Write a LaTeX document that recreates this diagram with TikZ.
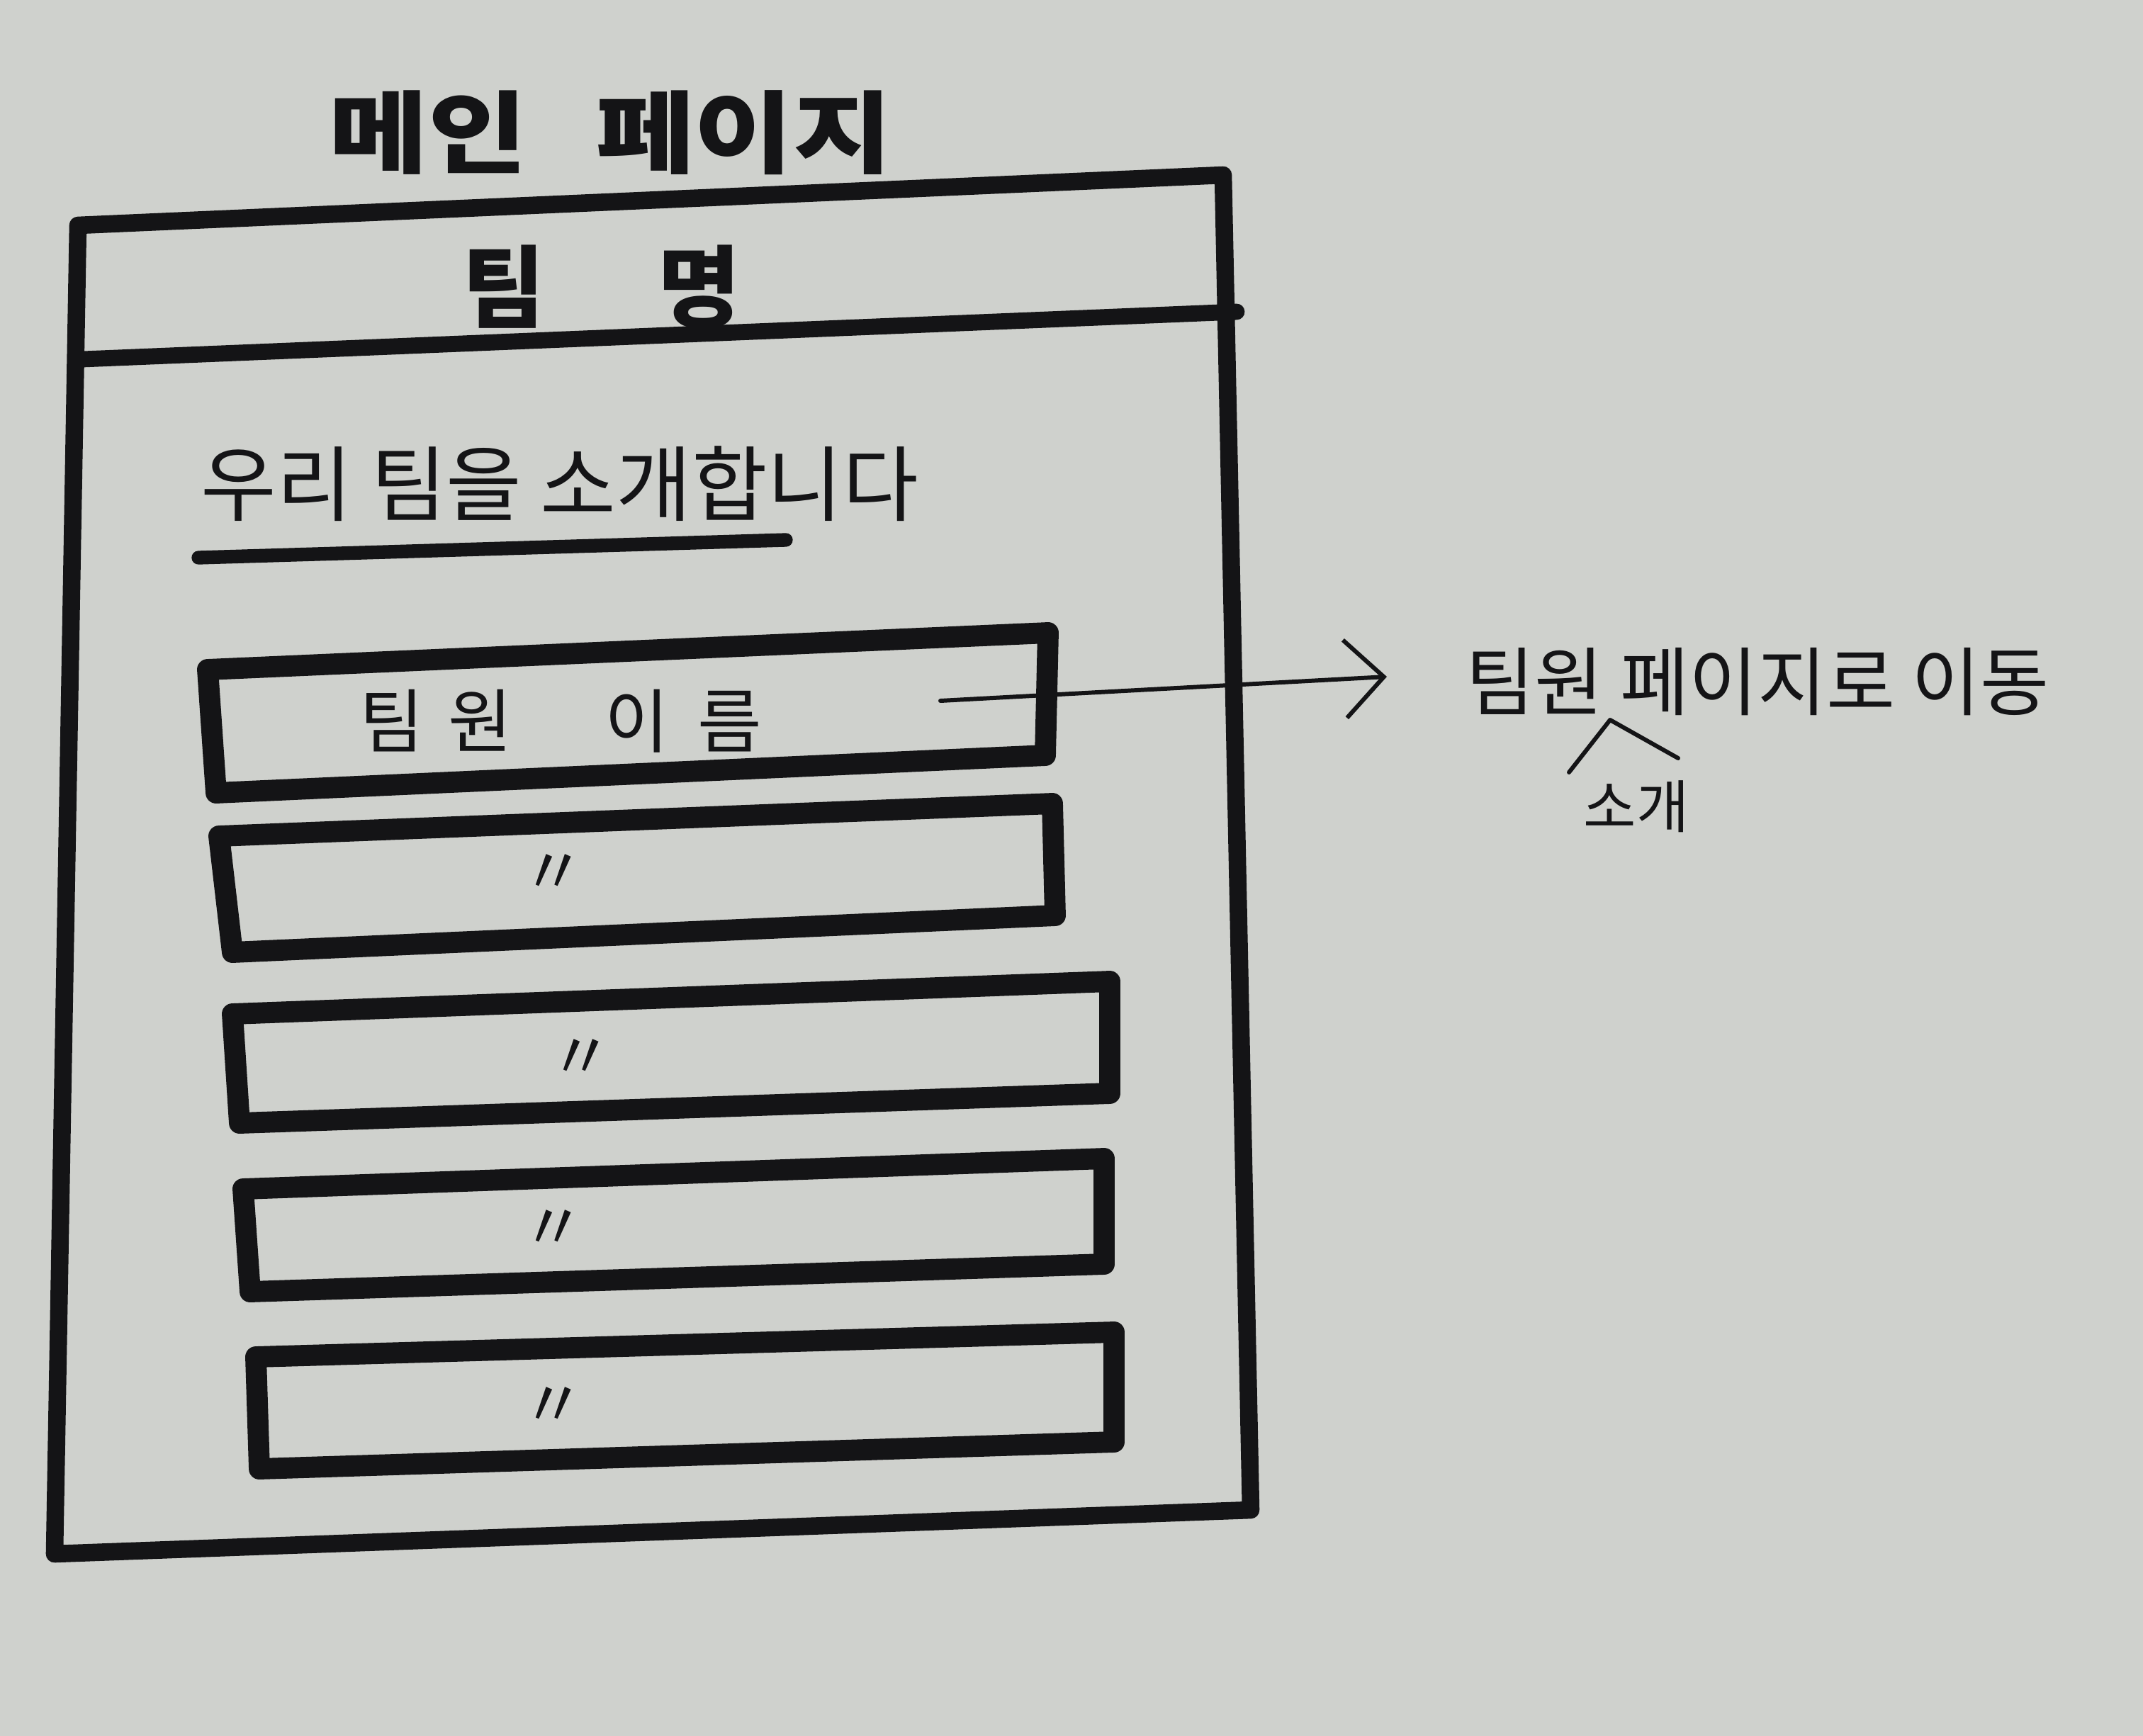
\documentclass[tikz,border=0pt]{standalone}
\usepackage{fontspec}
\setmainfont{Noto Sans CJK KR}
\usetikzlibrary{arrows.meta}
\definecolor{paper}{RGB}{207,209,205}
\definecolor{ink}{RGB}{20,20,22}
\begin{document}
\begin{tikzpicture}[x=1cm,y=1cm,
  thickline/.style={draw=ink,line width=7pt,line join=round,line cap=round},
  boxline/.style={draw=ink,line width=8.5pt,line join=round,line cap=round},
  penline/.style={draw=ink,line width=1.7pt,line cap=round,line join=round},
  txt/.style={text=ink,inner sep=0pt},
  heading/.style={txt,font=\bfseries\fontsize{36}{40}\selectfont},
  ditto/.style={txt,font=\fontsize{26}{28}\selectfont},
]
\fill[paper] (0,0) rectangle (30.24,-24.5);
\useasboundingbox (0,0) rectangle (30.24,-24.5);

% title
\node[heading,font=\bfseries\fontsize{36}{40}\selectfont] (title) at (8.62,-1.87) {\scalebox{1.2}[1]{메인\hspace{0.8cm}페이지}};

% outer frame and header
\draw[thickline] (1.10,-3.18) -- (17.26,-2.47) -- (17.65,-21.31) -- (0.77,-21.93) -- cycle;
\draw[thickline,line width=6.5pt] (1.16,-5.07) -- (17.45,-4.40);
\node[heading] (team) at (8.49,-4.05) {팀\hspace{1.6cm}명};

% intro
\node[txt,font=\fontsize{33}{36}\selectfont] (intro) at (7.90,-6.83) {우리 팀을 소개합니다};
\draw[ink,line width=5.5pt,line cap=round] (2.80,-7.87) -- (11.09,-7.62);

% member boxes
\draw[boxline] (2.93,-9.45) -- (14.79,-8.93) -- (14.75,-10.66) -- (3.05,-11.19) -- cycle;
\draw[boxline] (3.09,-11.80) -- (14.85,-11.34) -- (14.89,-12.92) -- (3.28,-13.44) -- cycle;
\draw[boxline] (3.28,-14.31) -- (15.66,-13.85) -- (15.66,-15.43) -- (3.38,-15.85) -- cycle;
\draw[boxline] (3.43,-16.78) -- (15.58,-16.35) -- (15.58,-17.84) -- (3.53,-18.23) -- cycle;
\draw[boxline] (3.61,-19.15) -- (15.72,-18.80) -- (15.72,-20.35) -- (3.66,-20.73) -- cycle;

\node[txt,font=\fontsize{28}{30}\selectfont] (m1) at (7.91,-10.18) {팀\hspace{0.35cm}원\hspace{1.3cm}이\hspace{0.4cm}름};
\node[ditto] (m2) at (7.81,-12.34) {〃};
\node[ditto] (m3) at (8.20,-14.95) {〃};
\node[ditto] (m4) at (7.81,-17.36) {〃};
\node[ditto] (m5) at (7.81,-19.86) {〃};

% arrow and note
\coordinate (a1) at (13.27,-9.89);
\coordinate (a2) at (19.57,-9.55);
\draw[penline,-{Straight Barb[length=5.5mm,width=11mm]}] (a1) -- (a2);
\node[txt,font=\fontsize{30}{32}\selectfont] (goto) at (24.80,-9.62) {팀원 페이지로 이동};
\coordinate (c1) at (22.14,-10.90);
\coordinate (c2) at (22.72,-10.16);
\coordinate (c3) at (23.68,-10.70);
\draw[penline] (c1) -- (c2) -- (c3);
\node[txt,font=\fontsize{23}{25}\selectfont] (ins) at (23.09,-11.38) {소개};
\end{tikzpicture}
\end{document}
